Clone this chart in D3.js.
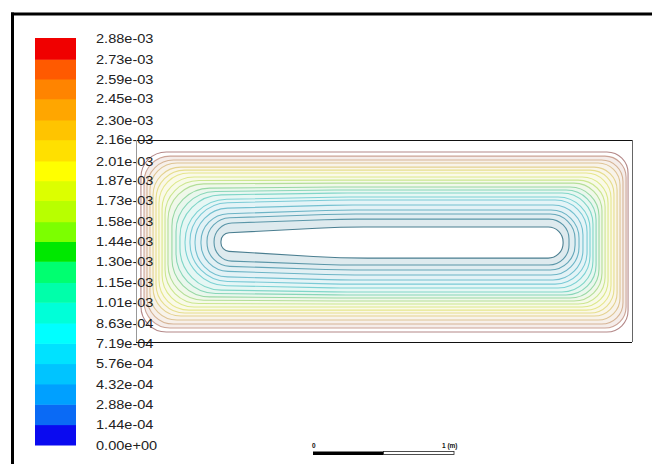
<!DOCTYPE html>
<html>
<head>
<meta charset="utf-8">
<script src="https://cdn.jsdelivr.net/npm/d3@7"></script>
<style>
  html, body { margin: 0; padding: 0; background: #fff; }
  svg { display: block; }
  text { font-family: "Liberation Sans", Arial, sans-serif; }
</style>
</head>
<body>
<svg id="chart" width="652" height="464"></svg>
<script>
// ---- colorbar levels (stream function) ----
const levels = [0, 1.44e-4, 2.88e-4, 4.32e-4, 5.76e-4, 7.19e-4, 8.63e-4, 1.01e-3, 1.15e-3, 1.30e-3,
  1.44e-3, 1.58e-3, 1.73e-3, 1.87e-3, 2.01e-3, 2.16e-3, 2.30e-3, 2.45e-3, 2.59e-3, 2.73e-3, 2.88e-3];
const levelLabels = ["0.00e+00", "1.44e-04", "2.88e-04", "4.32e-04", "5.76e-04", "7.19e-04", "8.63e-04",
  "1.01e-03", "1.15e-03", "1.30e-03", "1.44e-03", "1.58e-03", "1.73e-03", "1.87e-03", "2.01e-03",
  "2.16e-03", "2.30e-03", "2.45e-03", "2.59e-03", "2.73e-03", "2.88e-03"];
// band colours, bottom (lowest) to top
const bandColors = ["#0a0af0", "#0a6af5", "#00a0ff", "#00c4ff", "#00e2ff", "#00ffff", "#00ffd8", "#00ffaa",
  "#00ff70", "#00e800", "#7cff00", "#b8ff00", "#dcff00", "#ffff00", "#ffe000", "#ffc400", "#ffa600",
  "#ff8400", "#ff5a00", "#f00000"];

// ---- contour lines, outermost to innermost (metres, y upward) ----
const contourLevels = [2.88e-3, 2.73e-3, 2.59e-3, 2.45e-3, 2.30e-3, 2.16e-3, 2.01e-3, 1.87e-3, 1.73e-3, 1.58e-3,
  1.44e-3, 1.30e-3, 1.15e-3, 1.01e-3, 8.63e-4, 7.19e-4, 5.76e-4, 4.32e-4, 2.88e-4, 1.44e-4];
const cLeft   = [0.035, 0.057, 0.078, 0.099, 0.121, 0.142, 0.163, 0.185, 0.206, 0.227, 0.255, 0.284, 0.312, 0.348, 0.383, 0.419, 0.461, 0.504, 0.554, 0.603];
const cRight  = [3.492, 3.478, 3.456, 3.435, 3.414, 3.392, 3.371, 3.350, 3.329, 3.307, 3.286, 3.265, 3.243, 3.222, 3.201, 3.172, 3.144, 3.116, 3.073, 3.031];
const cTop    = [1.345, 1.316, 1.288, 1.267, 1.238, 1.217, 1.196, 1.168, 1.146, 1.125, 1.097, 1.076, 1.055, 1.026, 1.005, 0.970, 0.934, 0.906, 0.870, 0.814];
const cBottom = [0.071, 0.099, 0.127, 0.156, 0.184, 0.205, 0.226, 0.248, 0.269, 0.290, 0.311, 0.333, 0.354, 0.382, 0.410, 0.439, 0.474, 0.510, 0.545, 0.594];
const cTopLeft    = [1.345, 1.316, 1.288, 1.267, 1.238, 1.217, 1.196, 1.168, 1.142, 1.118, 1.087, 1.062, 1.037, 1.005, 0.980, 0.941, 0.902, 0.874, 0.838, 0.770];
const cBottomLeft = [0.071, 0.099, 0.127, 0.156, 0.184, 0.205, 0.226, 0.248, 0.273, 0.297, 0.322, 0.347, 0.372, 0.404, 0.435, 0.467, 0.506, 0.541, 0.577, 0.645];
const cRadiusLeft  = [0.180, 0.184, 0.188, 0.192, 0.198, 0.205, 0.213, 0.227, 0.241, 0.255, 0.270, 0.284, 0.298, 0.312, 0.319, 0.312, 0.284, 0.248, 0.199, 0.060];
const cRadiusRight = [0.150, 0.150, 0.152, 0.156, 0.163, 0.170, 0.177, 0.184, 0.191, 0.199, 0.206, 0.213, 0.220, 0.227, 0.227, 0.213, 0.199, 0.177, 0.142, 0.106];
const xBreak = 1.45;   // where the tapered left part joins the level part

const domainW = 3.52, domainH = 1.43;
const scaleTicks = [0, 1];
const scaleLabels = ["0", "1 (m)"];

// style: contour line colours as they appear in the rendering (outermost to innermost)
const lineColors = ["#b48888", "#cca496", "#d6b496", "#dec494", "#e4d290", "#e6de8e", "#e6e68c", "#dce88a",
  "#cce690", "#b4de98", "#98d8a4", "#88d6b8", "#80d6c8", "#7cd2d4", "#7acad6", "#74c0d0", "#6cb4c6",
  "#64a6b8", "#5a96a8", "#4a7e90"];

const svg = d3.select("#chart");

// outer frame
svg.append("line").attr("x1", 12.5).attr("x2", 12.5).attr("y1", 12.5).attr("y2", 470)
  .attr("stroke", "#000").attr("stroke-width", 3);
svg.append("line").attr("x1", 11).attr("x2", 660).attr("y1", 14).attr("y2", 14)
  .attr("stroke", "#000").attr("stroke-width", 3);

// ---- colorbar ----
const yBar = d3.scaleLinear().domain([0, 2.88e-3]).range([445, 38]);
const bar = svg.append("g");
bar.selectAll("rect").data(bandColors).join("rect")
  .attr("x", 35).attr("width", 41)
  .attr("y", (d, i) => yBar(levels[i + 1]))
  .attr("height", (d, i) => yBar(levels[i]) - yBar(levels[i + 1]) + 0.5)
  .attr("fill", d => d);

// ---- domain ----
const x = d3.scaleLinear().domain([0, domainW]).range([136, 632]);
const y = d3.scaleLinear().domain([0, domainH]).range([342, 140]);
const pxPerM = x(1) - x(0);

function colorOf(level) {
  const i = levels.findIndex(v => Math.abs(v - level) < 1e-6);
  return bandColors[Math.max(0, i - 1)];
}
function tint(k) { return d3.interpolateRgb("#ffffff", lineColors[k])(0.2); }

function contourPath(k) {
  const L = x(cLeft[k]), R = x(cRight[k]), xm = x(xBreak);
  const tM = y(cTop[k]), bM = y(cBottom[k]), tL = y(cTopLeft[k]), bL = y(cBottomLeft[k]);
  const rL = Math.min(cRadiusLeft[k] * pxPerM, (bL - tL) / 2 - 0.01);
  const rR = Math.min(cRadiusRight[k] * pxPerM, (bM - tM) / 2 - 0.01);
  const p = d3.path();
  p.moveTo((xm + R) / 2, tM);
  p.arcTo(R, tM, R, bM, rR);
  p.arcTo(R, bM, xm, bM, rR);
  p.arcTo(xm, bM, L, bL, 900);
  p.arcTo(L, bL, L, tL, rL);
  p.arcTo(L, tL, xm, tM, rL);
  p.arcTo(xm, tM, R, tM, 900);
  p.closePath();
  return p.toString();
}

const idx = d3.range(contourLevels.length);
const field = svg.append("g");
field.selectAll("path.fill").data(idx).join("path")
  .attr("class", "fill")
  .attr("d", k => contourPath(k))
  .attr("fill", k => (k === 0 || k === idx.length - 1) ? "#ffffff" : tint(k))
  .attr("stroke", "none");
field.selectAll("path.line").data(idx).join("path")
  .attr("class", "line")
  .attr("d", k => contourPath(k))
  .attr("fill", "none")
  .attr("stroke", k => lineColors[k])
  .attr("data-level", k => contourLevels[k])
  .attr("data-band", k => colorOf(contourLevels[k]))
  .attr("stroke-width", 1.1);

// colorbar labels (drawn over the field)
bar.selectAll("text").data(levels).join("text")
  .attr("transform", d => `translate(96,${yBar(d)}) scale(1.12,1)`)
  .attr("dy", "0.36em")
  .attr("font-size", 13)
  .attr("fill", "#222")
  .text((d, i) => levelLabels[i]);
bar.raise();

// domain boundary
svg.append("line").attr("x1", x(0)).attr("x2", x(domainW)).attr("y1", y(domainH) + 0.5).attr("y2", y(domainH) + 0.5).attr("stroke", "#111");
svg.append("line").attr("x1", x(0)).attr("x2", x(domainW)).attr("y1", y(0) + 0.5).attr("y2", y(0) + 0.5).attr("stroke", "#111");
svg.append("line").attr("x1", x(0) + 0.5).attr("x2", x(0) + 0.5).attr("y1", y(domainH)).attr("y2", y(0)).attr("stroke", "#999");
svg.append("line").attr("x1", x(domainW) + 0.5).attr("x2", x(domainW) + 0.5).attr("y1", y(domainH)).attr("y2", y(0)).attr("stroke", "#666");

// ---- scale bar ----
const sb = d3.scaleLinear().domain([0, 1]).range([313, 454]);
svg.append("rect").attr("x", sb(0)).attr("y", 451.5).attr("width", sb(0.5) - sb(0)).attr("height", 3.5).attr("fill", "#000");
svg.append("rect").attr("x", sb(0.5)).attr("y", 451.5).attr("width", sb(1) - sb(0.5)).attr("height", 3)
  .attr("fill", "#fff").attr("stroke", "#222").attr("stroke-width", 0.8);
svg.selectAll("text.sb").data(scaleTicks).join("text")
  .attr("class", "sb")
  .attr("x", d => sb(d) - (d === 1 ? 12 : 1))
  .attr("y", 448)
  .attr("font-family", "Liberation Serif, serif")
  .attr("font-weight", "bold")
  .attr("font-size", 6.5)
  .attr("fill", "#111")
  .text((d, i) => scaleLabels[i]);
</script>
</body>
</html>
